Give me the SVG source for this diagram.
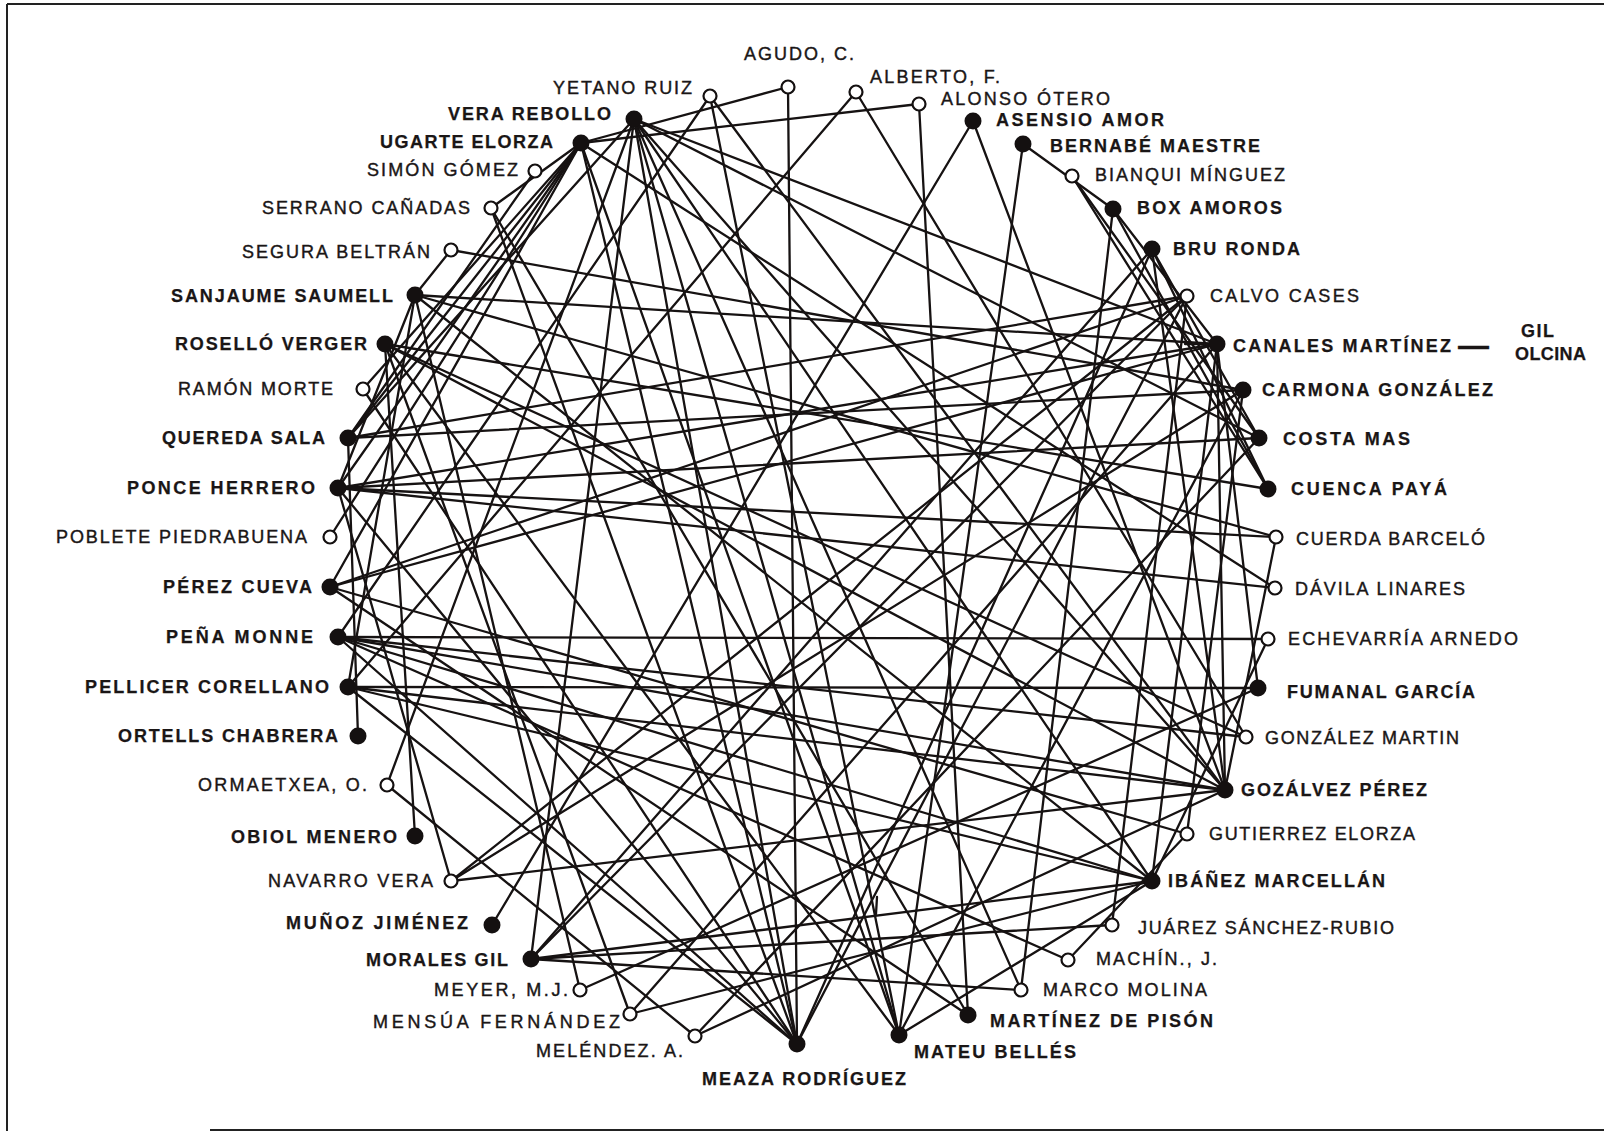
<svg xmlns="http://www.w3.org/2000/svg" width="1604" height="1133" viewBox="0 0 1604 1133">
<style>
.bg{fill:#fff}
.frame{stroke:#222;stroke-width:2;fill:none}
#edges line{stroke:#161212;stroke-width:2.3;stroke-linecap:round}
.f{fill:#141010}
.o{fill:#fff;stroke:#141010;stroke-width:2.2}
text{font-family:"Liberation Sans",Arial,sans-serif;font-size:18px;fill:#1a1616;stroke:#1a1616;stroke-width:0.4}
.b{font-weight:bold;stroke-width:0.25}
.dash{font-size:31px}
</style>
<rect class="bg" x="0" y="0" width="1604" height="1133"/>
<g id="frame">
<line class="frame" x1="7" y1="4" x2="1604" y2="4"/>
<line class="frame" x1="7" y1="4" x2="7" y2="1131"/>
<line class="frame" x1="210" y1="1130" x2="1604" y2="1130"/>
</g>
<g id="edges">
<line x1="581" y1="143" x2="919" y2="104"/>
<line x1="581" y1="143" x2="788" y2="87"/>
<line x1="788" y1="87" x2="797" y2="1044"/>
<line x1="919" y1="104" x2="968" y2="1015"/>
<line x1="710" y1="96" x2="338" y2="637"/>
<line x1="710" y1="96" x2="1225" y2="790"/>
<line x1="856" y1="92" x2="348" y2="687"/>
<line x1="856" y1="92" x2="1246" y2="737"/>
<line x1="535" y1="171" x2="348" y2="438"/>
<line x1="491" y1="208" x2="581" y2="143"/>
<line x1="491" y1="208" x2="797" y2="1044"/>
<line x1="491" y1="208" x2="968" y2="1015"/>
<line x1="451" y1="250" x2="1243" y2="390"/>
<line x1="451" y1="250" x2="415" y2="295"/>
<line x1="363" y1="389" x2="581" y2="143"/>
<line x1="363" y1="389" x2="797" y2="1044"/>
<line x1="330" y1="537" x2="581" y2="143"/>
<line x1="387" y1="785" x2="634" y2="119"/>
<line x1="387" y1="785" x2="695" y2="1036"/>
<line x1="451" y1="881" x2="338" y2="488"/>
<line x1="451" y1="881" x2="1187" y2="296"/>
<line x1="451" y1="881" x2="1243" y2="390"/>
<line x1="451" y1="881" x2="1225" y2="790"/>
<line x1="492" y1="925" x2="973" y2="121"/>
<line x1="580" y1="990" x2="1258" y2="688"/>
<line x1="580" y1="990" x2="415" y2="295"/>
<line x1="630" y1="1014" x2="385" y2="344"/>
<line x1="630" y1="1014" x2="1152" y2="881"/>
<line x1="695" y1="1036" x2="1225" y2="790"/>
<line x1="634" y1="119" x2="1021" y2="990"/>
<line x1="531" y1="959" x2="1021" y2="990"/>
<line x1="1113" y1="209" x2="1021" y2="990"/>
<line x1="1068" y1="960" x2="338" y2="637"/>
<line x1="1068" y1="960" x2="1187" y2="834"/>
<line x1="531" y1="959" x2="1112" y2="925"/>
<line x1="1112" y1="925" x2="1187" y2="296"/>
<line x1="1187" y1="834" x2="330" y2="587"/>
<line x1="338" y1="637" x2="1246" y2="737"/>
<line x1="338" y1="637" x2="1268" y2="639"/>
<line x1="1268" y1="639" x2="1152" y2="881"/>
<line x1="338" y1="488" x2="1275" y2="588"/>
<line x1="581" y1="143" x2="1275" y2="588"/>
<line x1="415" y1="295" x2="1276" y2="537"/>
<line x1="1276" y1="537" x2="1225" y2="790"/>
<line x1="330" y1="587" x2="1187" y2="296"/>
<line x1="1072" y1="176" x2="1259" y2="438"/>
<line x1="1072" y1="176" x2="1268" y2="489"/>
<line x1="973" y1="121" x2="1225" y2="790"/>
<line x1="1023" y1="144" x2="899" y2="1035"/>
<line x1="1023" y1="144" x2="1113" y2="209"/>
<line x1="1113" y1="209" x2="1217" y2="344"/>
<line x1="1113" y1="209" x2="1268" y2="489"/>
<line x1="1152" y1="249" x2="1259" y2="438"/>
<line x1="1152" y1="249" x2="1268" y2="489"/>
<line x1="1152" y1="249" x2="797" y2="1044"/>
<line x1="797" y1="1044" x2="581" y2="143"/>
<line x1="797" y1="1044" x2="634" y2="119"/>
<line x1="797" y1="1044" x2="338" y2="637"/>
<line x1="797" y1="1044" x2="1187" y2="296"/>
<line x1="899" y1="1035" x2="385" y2="344"/>
<line x1="899" y1="1035" x2="581" y2="143"/>
<line x1="899" y1="1035" x2="634" y2="119"/>
<line x1="899" y1="1035" x2="710" y2="96"/>
<line x1="899" y1="1035" x2="1152" y2="881"/>
<line x1="531" y1="959" x2="1152" y2="249"/>
<line x1="531" y1="959" x2="634" y2="119"/>
<line x1="531" y1="959" x2="1152" y2="881"/>
<line x1="531" y1="959" x2="1187" y2="296"/>
<line x1="581" y1="143" x2="338" y2="488"/>
<line x1="581" y1="143" x2="330" y2="587"/>
<line x1="581" y1="143" x2="348" y2="438"/>
<line x1="415" y1="836" x2="385" y2="344"/>
<line x1="634" y1="119" x2="1217" y2="344"/>
<line x1="634" y1="119" x2="1259" y2="438"/>
<line x1="634" y1="119" x2="1152" y2="881"/>
<line x1="634" y1="119" x2="348" y2="438"/>
<line x1="338" y1="488" x2="1259" y2="438"/>
<line x1="338" y1="488" x2="1217" y2="344"/>
<line x1="338" y1="488" x2="1276" y2="537"/>
<line x1="338" y1="488" x2="797" y2="1044"/>
<line x1="348" y1="438" x2="1243" y2="390"/>
<line x1="358" y1="736" x2="348" y2="438"/>
<line x1="330" y1="587" x2="1217" y2="344"/>
<line x1="338" y1="637" x2="1225" y2="790"/>
<line x1="338" y1="637" x2="1152" y2="881"/>
<line x1="348" y1="687" x2="1258" y2="688"/>
<line x1="348" y1="687" x2="1225" y2="790"/>
<line x1="348" y1="687" x2="1152" y2="881"/>
<line x1="415" y1="295" x2="1217" y2="344"/>
<line x1="415" y1="295" x2="1152" y2="881"/>
<line x1="415" y1="295" x2="348" y2="687"/>
<line x1="415" y1="295" x2="338" y2="488"/>
<line x1="385" y1="344" x2="1268" y2="489"/>
<line x1="1217" y1="344" x2="1225" y2="790"/>
<line x1="1217" y1="344" x2="1152" y2="881"/>
<line x1="1258" y1="688" x2="1217" y2="344"/>
<line x1="1243" y1="390" x2="899" y2="1035"/>
<line x1="348" y1="438" x2="1187" y2="296"/>
<line x1="385" y1="344" x2="1246" y2="737"/>
<line x1="348" y1="687" x2="797" y2="1044"/>
<line x1="330" y1="587" x2="968" y2="1015"/>
<line x1="385" y1="344" x2="1225" y2="790"/>
<line x1="1217" y1="344" x2="630" y2="1014"/>
<line x1="1259" y1="438" x2="695" y2="1036"/>
<line x1="634" y1="119" x2="1225" y2="790"/>
<line x1="1152" y1="249" x2="1225" y2="790"/>
<line x1="1243" y1="390" x2="1187" y2="834"/>
<line x1="1185" y1="344" x2="1217" y2="344"/>
<line x1="877" y1="897" x2="876" y2="914"/>
</g>
<g id="n-AG"><circle class="o" cx="788" cy="87" r="6.5"/><text x="744" y="60" textLength="110">AGUDO, C.</text></g>
<g id="n-YR"><circle class="o" cx="710" cy="96" r="6.5"/><text x="553" y="94" textLength="139">YETANO RUIZ</text></g>
<g id="n-AL"><circle class="o" cx="856" cy="92" r="6.5"/><text x="870" y="83" textLength="130">ALBERTO, F.</text></g>
<g id="n-AO"><circle class="o" cx="919" cy="104" r="6.5"/><text x="941" y="105" textLength="169">ALONSO ÓTERO</text></g>
<g id="n-VR"><circle class="f" cx="634" cy="119" r="8.5"/><text class="b" x="448" y="120" textLength="163">VERA REBOLLO</text></g>
<g id="n-UE"><circle class="f" cx="581" cy="143" r="8.5"/><text class="b" x="380" y="148" textLength="173">UGARTE ELORZA</text></g>
<g id="n-SG"><circle class="o" cx="535" cy="171" r="6.5"/><text x="367" y="176" textLength="151">SIMÓN GÓMEZ</text></g>
<g id="n-SC"><circle class="o" cx="491" cy="208" r="6.5"/><text x="262" y="214" textLength="208">SERRANO CAÑADAS</text></g>
<g id="n-SB"><circle class="o" cx="451" cy="250" r="6.5"/><text x="242" y="258" textLength="188">SEGURA BELTRÁN</text></g>
<g id="n-SS"><circle class="f" cx="415" cy="295" r="8.5"/><text class="b" x="171" y="302" textLength="222">SANJAUME SAUMELL</text></g>
<g id="n-RV"><circle class="f" cx="385" cy="344" r="8.5"/><text class="b" x="175" y="350" textLength="192">ROSELLÓ VERGER</text></g>
<g id="n-RM"><circle class="o" cx="363" cy="389" r="6.5"/><text x="178" y="395" textLength="155">RAMÓN MORTE</text></g>
<g id="n-QS"><circle class="f" cx="348" cy="438" r="8.5"/><text class="b" x="162" y="444" textLength="163">QUEREDA SALA</text></g>
<g id="n-PH"><circle class="f" cx="338" cy="488" r="8.5"/><text class="b" x="127" y="494" textLength="188">PONCE HERRERO</text></g>
<g id="n-PP"><circle class="o" cx="330" cy="537" r="6.5"/><text x="56" y="543" textLength="251">POBLETE PIEDRABUENA</text></g>
<g id="n-PC"><circle class="f" cx="330" cy="587" r="8.5"/><text class="b" x="163" y="593" textLength="149">PÉREZ CUEVA</text></g>
<g id="n-PM"><circle class="f" cx="338" cy="637" r="8.5"/><text class="b" x="166" y="643" textLength="147">PEÑA MONNE</text></g>
<g id="n-PE"><circle class="f" cx="348" cy="687" r="8.5"/><text class="b" x="85" y="693" textLength="244">PELLICER CORELLANO</text></g>
<g id="n-OC"><circle class="f" cx="358" cy="736" r="8.5"/><text class="b" x="118" y="742" textLength="220">ORTELLS CHABRERA</text></g>
<g id="n-OR"><circle class="o" cx="387" cy="785" r="6.5"/><text x="198" y="791" textLength="169">ORMAETXEA, O.</text></g>
<g id="n-OM"><circle class="f" cx="415" cy="836" r="8.5"/><text class="b" x="231" y="843" textLength="166">OBIOL MENERO</text></g>
<g id="n-NV"><circle class="o" cx="451" cy="881" r="6.5"/><text x="268" y="887" textLength="165">NAVARRO VERA</text></g>
<g id="n-MJ"><circle class="f" cx="492" cy="925" r="8.5"/><text class="b" x="286" y="929" textLength="182">MUÑOZ JIMÉNEZ</text></g>
<g id="n-MG"><circle class="f" cx="531" cy="959" r="8.5"/><text class="b" x="366" y="966" textLength="142">MORALES GIL</text></g>
<g id="n-MY"><circle class="o" cx="580" cy="990" r="6.5"/><text x="434" y="996" textLength="134">MEYER, M.J.</text></g>
<g id="n-MF"><circle class="o" cx="630" cy="1014" r="6.5"/><text x="373" y="1028" textLength="247">MENSÚA FERNÁNDEZ</text></g>
<g id="n-ML"><circle class="o" cx="695" cy="1036" r="6.5"/><text x="536" y="1057" textLength="147">MELÉNDEZ. A.</text></g>
<g id="n-MR"><circle class="f" cx="797" cy="1044" r="8.5"/><text class="b" x="702" y="1085" textLength="204">MEAZA RODRÍGUEZ</text></g>
<g id="n-MB"><circle class="f" cx="899" cy="1035" r="8.5"/><text class="b" x="914" y="1058" textLength="162">MATEU BELLÉS</text></g>
<g id="n-MP"><circle class="f" cx="968" cy="1015" r="8.5"/><text class="b" x="990" y="1027" textLength="223">MARTÍNEZ DE PISÓN</text></g>
<g id="n-MM"><circle class="o" cx="1021" cy="990" r="6.5"/><text x="1043" y="996" textLength="164">MARCO MOLINA</text></g>
<g id="n-MC"><circle class="o" cx="1068" cy="960" r="6.5"/><text x="1096" y="965" textLength="121">MACHÍN., J.</text></g>
<g id="n-JS"><circle class="o" cx="1112" cy="925" r="6.5"/><text x="1138" y="934" textLength="256">JUÁREZ SÁNCHEZ-RUBIO</text></g>
<g id="n-IM"><circle class="f" cx="1152" cy="881" r="8.5"/><text class="b" x="1168" y="887" textLength="217">IBÁÑEZ MARCELLÁN</text></g>
<g id="n-GE"><circle class="o" cx="1187" cy="834" r="6.5"/><text x="1209" y="840" textLength="206">GUTIERREZ ELORZA</text></g>
<g id="n-GP"><circle class="f" cx="1225" cy="790" r="8.5"/><text class="b" x="1241" y="796" textLength="186">GOZÁLVEZ PÉREZ</text></g>
<g id="n-GM"><circle class="o" cx="1246" cy="737" r="6.5"/><text x="1265" y="744" textLength="194">GONZÁLEZ MARTIN</text></g>
<g id="n-FG"><circle class="f" cx="1258" cy="688" r="8.5"/><text class="b" x="1287" y="698" textLength="188">FUMANAL GARCÍA</text></g>
<g id="n-EA"><circle class="o" cx="1268" cy="639" r="6.5"/><text x="1288" y="645" textLength="230">ECHEVARRÍA ARNEDO</text></g>
<g id="n-DL"><circle class="o" cx="1275" cy="588" r="6.5"/><text x="1295" y="595" textLength="170">DÁVILA LINARES</text></g>
<g id="n-CB"><circle class="o" cx="1276" cy="537" r="6.5"/><text x="1296" y="545" textLength="189">CUERDA BARCELÓ</text></g>
<g id="n-CP"><circle class="f" cx="1268" cy="489" r="8.5"/><text class="b" x="1291" y="495" textLength="156">CUENCA PAYÁ</text></g>
<g id="n-CM"><circle class="f" cx="1259" cy="438" r="8.5"/><text class="b" x="1283" y="445" textLength="127">COSTA MAS</text></g>
<g id="n-CG"><circle class="f" cx="1243" cy="390" r="8.5"/><text class="b" x="1262" y="396" textLength="231">CARMONA GONZÁLEZ</text></g>
<g id="n-CA"><circle class="f" cx="1217" cy="344" r="8.5"/><text class="b" x="1233" y="352" textLength="218">CANALES MARTÍNEZ</text><text class="b dash" x="1458" y="356">—</text><text class="b" x="1521" y="337" textLength="33">GIL</text><text class="b" x="1515" y="360" textLength="71">OLCINA</text></g>
<g id="n-CC"><circle class="o" cx="1187" cy="296" r="6.5"/><text x="1210" y="302" textLength="149">CALVO CASES</text></g>
<g id="n-BR"><circle class="f" cx="1152" cy="249" r="8.5"/><text class="b" x="1173" y="255" textLength="127">BRU RONDA</text></g>
<g id="n-BA"><circle class="f" cx="1113" cy="209" r="8.5"/><text class="b" x="1137" y="214" textLength="145">BOX AMOROS</text></g>
<g id="n-BM"><circle class="o" cx="1072" cy="176" r="6.5"/><text x="1095" y="181" textLength="190">BIANQUI MÍNGUEZ</text></g>
<g id="n-BE"><circle class="f" cx="1023" cy="144" r="8.5"/><text class="b" x="1050" y="152" textLength="210">BERNABÉ MAESTRE</text></g>
<g id="n-AA"><circle class="f" cx="973" cy="121" r="8.5"/><text class="b" x="996" y="126" textLength="168">ASENSIO AMOR</text></g>
</svg>
